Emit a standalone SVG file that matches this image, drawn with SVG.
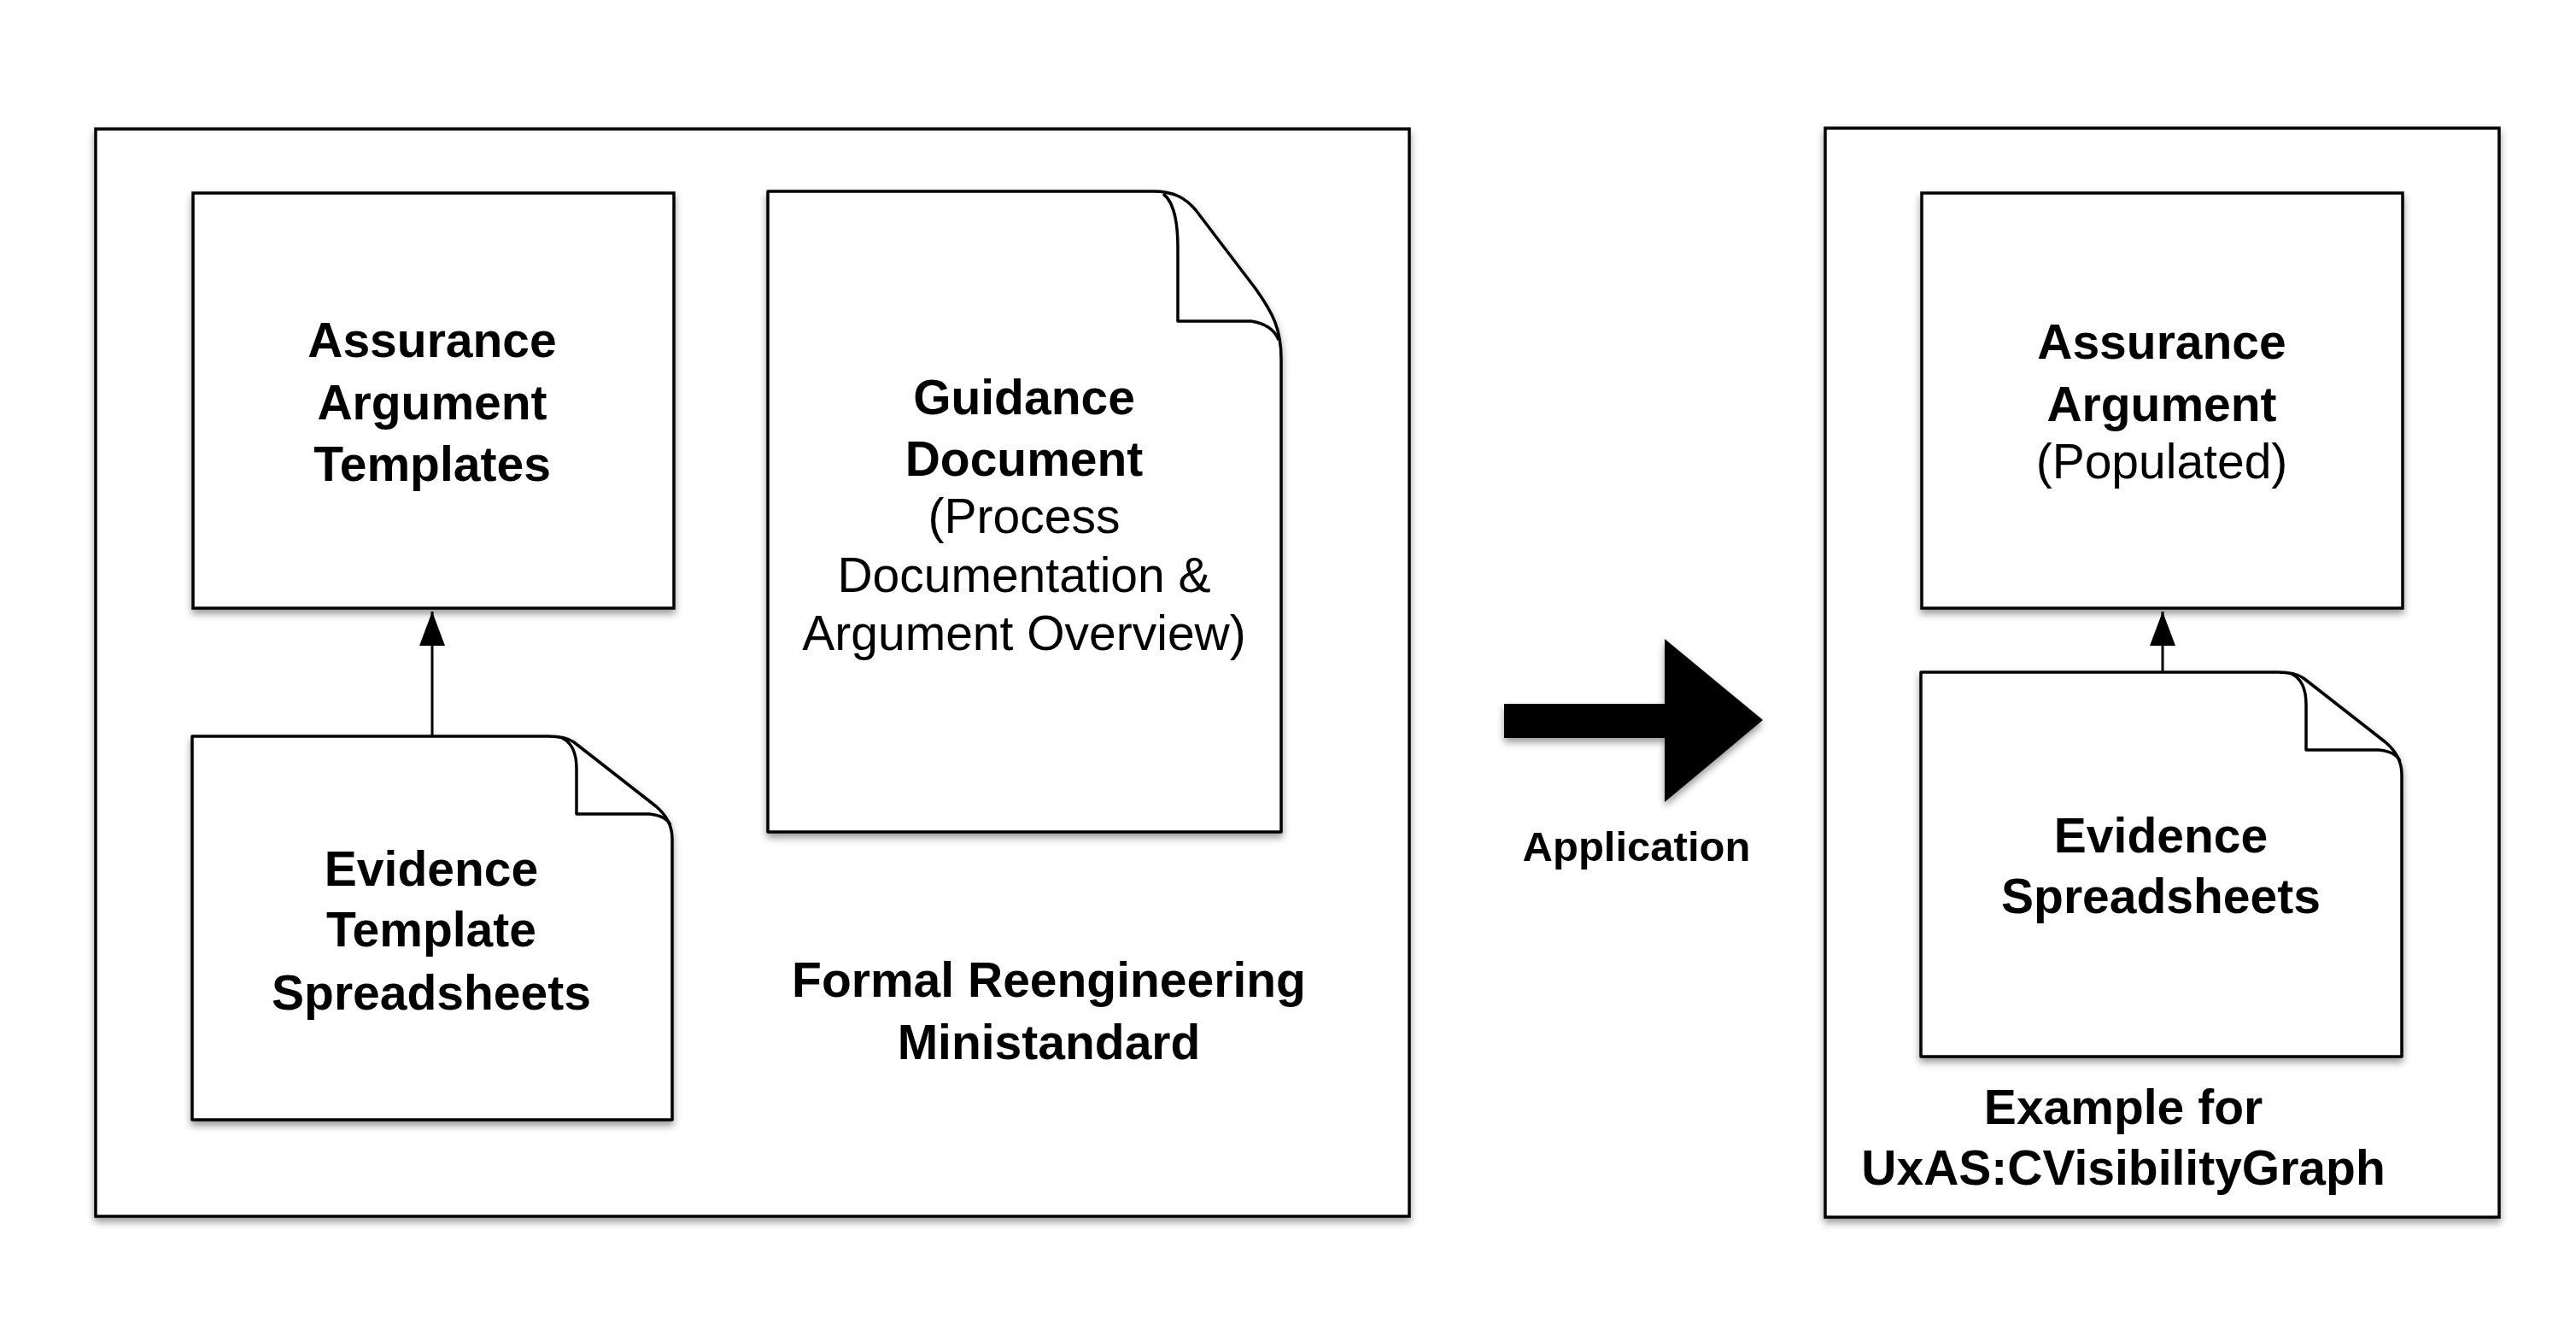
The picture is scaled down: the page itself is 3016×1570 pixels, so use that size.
<svg xmlns="http://www.w3.org/2000/svg" width="3016" height="1570" viewBox="0 0 3016 1570">
<defs>
<filter id="sh" x="-10%" y="-10%" width="120%" height="125%">
<feDropShadow dx="0" dy="5" stdDeviation="4" flood-color="#000" flood-opacity="0.4"/>
</filter>
<marker id="ah" viewBox="0 0 30 40" refX="15" refY="0" markerWidth="30" markerHeight="40" markerUnits="userSpaceOnUse" orient="0">
<path d="M15,0 L30,40 L0,40 Z" fill="#000"/>
</marker>
</defs>
<style>
.box{fill:#fff;stroke:#000;stroke-width:3.5;stroke-linejoin:miter}
.fold{fill:#fff;stroke:#000;stroke-width:3.5;stroke-linejoin:round}
.b{font-family:"Liberation Sans",Arial,Helvetica,sans-serif;font-weight:bold;font-size:57px;fill:#000;text-anchor:middle}
.r{font-family:"Liberation Sans",Arial,Helvetica,sans-serif;font-weight:normal;font-size:57px;fill:#000;text-anchor:middle}
.conn{stroke:#000;stroke-width:3;fill:none}
</style>
<rect width="3016" height="1570" fill="#fff"/>

<g id="ministandard">
<rect class="box" x="112" y="151" width="1538" height="1273" filter="url(#sh)"/>
<text class="b" x="1228" y="1167">Formal Reengineering</text>
<text class="b" x="1228" y="1240">Ministandard</text>
</g>

<g id="example">
<rect class="box" x="2137" y="150" width="789" height="1275" filter="url(#sh)"/>
<text class="b" x="2486" y="1316">Example for</text>
<text class="b" x="2486" y="1387">UxAS:CVisibilityGraph</text>
</g>

<g id="assurance-templates">
<rect class="box" x="226" y="226" width="563" height="486" filter="url(#sh)"/>
<text class="b" x="506" y="418">Assurance</text>
<text class="b" x="506" y="491">Argument</text>
<text class="b" x="506" y="563">Templates</text>
</g>

<g id="evidence-templates">
<path class="fold" filter="url(#sh)" d="M225,862 H642 Q662,862 672,869 L768,944 Q787,960 787,982 V1311 H225 Z"/>
<path class="fold" d="M658,864 Q675,872 675,900 V953 H760 Q780,955 785,966"/>
<text class="b" x="505" y="1037">Evidence</text>
<text class="b" x="505" y="1108">Template</text>
<text class="b" x="505" y="1182">Spreadsheets</text>
</g>

<g id="guidance">
<path class="fold" filter="url(#sh)" d="M899,224 H1350 C1375,224 1388,232 1400,246 L1470,338 C1490,366 1500,385 1500,420 V974 H899 Z"/>
<path class="fold" d="M1362,227 Q1379,240 1379,290 V376 H1465 Q1490,380 1497,398"/>
<text class="b" x="1199" y="485">Guidance</text>
<text class="b" x="1199" y="557">Document</text>
<text class="r" x="1199" y="624">(Process</text>
<text class="r" x="1199" y="693">Documentation &amp;</text>
<text class="r" x="1199" y="761">Argument Overview)</text>
</g>

<g id="assurance-populated">
<rect class="box" x="2250" y="226" width="563" height="486" filter="url(#sh)"/>
<text class="b" x="2531" y="420">Assurance</text>
<text class="b" x="2531" y="493">Argument</text>
<text class="r" x="2531" y="560">(Populated)</text>
</g>

<g id="evidence-spreadsheets">
<path class="fold" filter="url(#sh)" d="M2249,787 H2667 Q2687,787 2697,794 L2793,869 Q2812,885 2812,907 V1237 H2249 Z"/>
<path class="fold" d="M2683,789 Q2700,797 2700,825 V878 H2785 Q2805,880 2810,891"/>
<text class="b" x="2530" y="998">Evidence</text>
<text class="b" x="2530" y="1069">Spreadsheets</text>
</g>

<g id="application">
<polygon points="1761,824 1949,824 1949,748 2064,843 1949,939 1949,864 1761,864" fill="#000" filter="url(#sh)"/>
<text class="b" x="1916" y="1008" style="font-size:49px">Application</text>
</g>

<g id="connectors">
<line class="conn" x1="506" y1="862" x2="506" y2="716" marker-end="url(#ah)"/>
<line class="conn" x1="2532" y1="787" x2="2532" y2="716" marker-end="url(#ah)"/>
</g>
</svg>
